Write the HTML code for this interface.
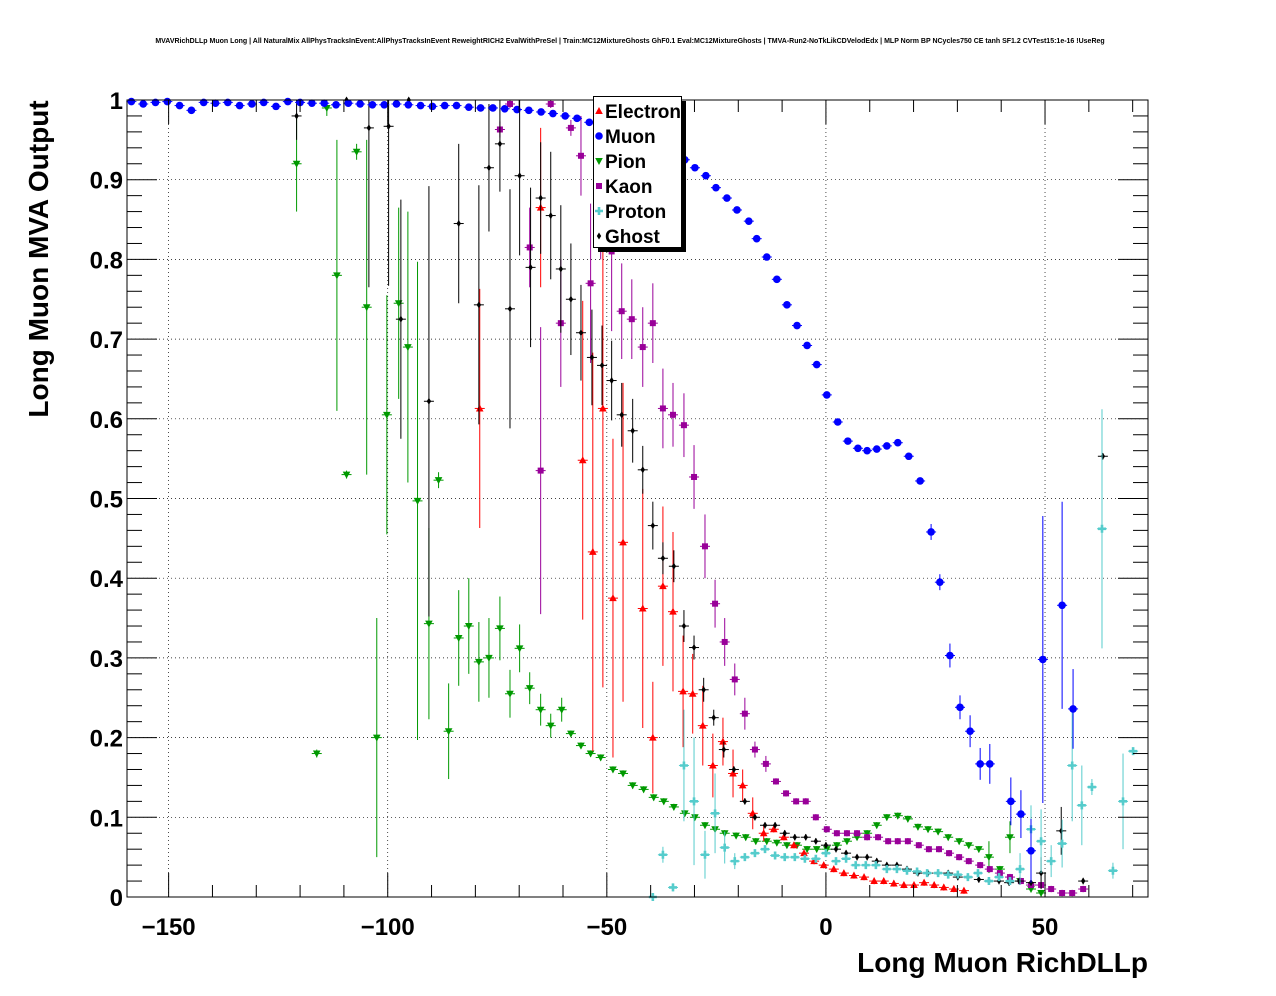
<!DOCTYPE html>
<html><head><meta charset="utf-8">
<style>
body{margin:0;background:#fff;}
svg{display:block;font-family:"Liberation Sans",sans-serif;}
</style></head>
<body>
<svg id="chart" width="1276" height="996" viewBox="0 0 1276 996" xmlns="http://www.w3.org/2000/svg">
<rect width="1276" height="996" fill="#fff"/>
<text x="630" y="43" font-size="7" font-weight="bold" text-anchor="middle">MVAVRichDLLp Muon Long | All NaturalMix AllPhysTracksInEvent:AllPhysTracksInEvent ReweightRICH2 EvalWithPreSel | Train:MC12MixtureGhosts GhF0.1 Eval:MC12MixtureGhosts | TMVA-Run2-NoTkLikCDVelodEdx | MLP Norm BP NCycles750 CE tanh SF1.2 CVTest15:1e-16 !UseReg</text>
<g id="grid"></g>
<g id="marks"></g>
<rect x="127" y="100" width="1021" height="797" fill="none" stroke="#000" stroke-width="1"/>
<g id="axes"></g>
<text transform="translate(48,259) rotate(-90)" font-size="28" font-weight="bold" text-anchor="middle">Long Muon MVA Output</text>
<text x="1148" y="972" font-size="28" font-weight="bold" text-anchor="end">Long Muon RichDLLp</text>
<g id="legend"></g>
</svg>
<script>
const xMin=-159.5, xMax=73.5, yMin=0, yMax=1;
const L=127,R=1148,T=100,B=897;
const xTicks=[-150,-100,-50,0,50];
const xTickLabels=["\u2212150","\u2212100","\u221250","0","50"];
const yTicks=[0,0.1,0.2,0.3,0.4,0.5,0.6,0.7,0.8,0.9,1];
const yTickLabels=["0","0.1","0.2","0.3","0.4","0.5","0.6","0.7","0.8","0.9","1"];

const muonX=[-158.5,-155.8,-153.0,-150.3,-147.5,-144.8,-142.0,-139.3,-136.5,-133.8,-131.0,-128.3,-125.5,-122.8,-120.0,-117.3,-114.5,-111.8,-109.0,-106.3,-103.5,-100.8,-98.0,-95.3,-92.5,-89.8,-87.0,-84.3,-81.5,-78.8,-76.0,-73.3,-70.5,-67.8,-65.0,-62.3,-59.5,-56.8,-54.0,-51.4,-48.9,-46.6,-44.1,-41.8,-39.5,-37.2,-34.7,-32.2,-29.9,-27.4,-25.1,-22.6,-20.3,-17.6,-15.8,-13.5,-11.2,-8.9,-6.6,-4.3,-2.1,0.2,2.7,5.0,7.3,9.4,11.6,13.9,16.4,18.9,21.5,24.0,26.0,28.3,30.6,32.9,35.2,37.4,42.2,44.5,46.8,49.5,53.9,56.4];
const muonY=[0.998,0.995,0.997,0.998,0.993,0.987,0.997,0.996,0.997,0.993,0.995,0.997,0.992,0.998,0.997,0.996,0.996,0.994,0.996,0.995,0.994,0.994,0.995,0.994,0.993,0.992,0.993,0.993,0.991,0.99,0.99,0.989,0.988,0.987,0.985,0.983,0.98,0.977,0.972,0.968,0.965,0.96,0.955,0.948,0.94,0.933,0.928,0.925,0.915,0.905,0.89,0.877,0.862,0.848,0.826,0.803,0.775,0.743,0.717,0.692,0.668,0.63,0.596,0.572,0.563,0.56,0.562,0.566,0.57,0.553,0.522,0.458,0.395,0.303,0.238,0.208,0.167,0.167,0.12,0.104,0.058,0.298,0.366,0.236];
const muonErr=[];muonErr[72]=0.01;muonErr[73]=0.015;muonErr[74]=0.015;muonErr[75]=0.02;muonErr[76]=0.02;muonErr[77]=0.025;muonErr[78]=0.03;muonErr[79]=0.03;muonErr[80]=0.04;muonErr[81]=0.18;muonErr[82]=0.13;muonErr[83]=0.05;muonErr[71]=0.01;

const pionX=[-120.8,-116.2,-113.9,-111.6,-109.4,-107.1,-104.8,-102.5,-100.2,-97.5,-95.4,-93.2,-90.6,-88.4,-86.1,-83.8,-81.5,-79.2,-76.9,-74.4,-72.1,-69.9,-67.6,-65.1,-62.8,-60.3,-58.2,-55.9,-53.7,-51.4,-48.6,-46.3,-44.1,-41.6,-39.3,-37.0,-34.7,-32.2,-29.9,-27.6,-25.3,-23.1,-20.5,-18.3,-16.0,-13.5,-11.2,-8.9,-6.6,-4.3,-2.1,0.2,2.5,4.8,7.1,9.4,11.6,13.9,16.4,18.7,21.0,23.3,25.6,27.9,30.4,32.6,34.9,37.2,39.7,42.0,44.3,46.8,49.1];
const pionY=[0.92,0.18,0.99,0.78,0.53,0.935,0.74,0.2,0.605,0.745,0.69,0.497,0.343,0.523,0.208,0.325,0.34,0.295,0.3,0.337,0.255,0.312,0.262,0.235,0.215,0.235,0.205,0.19,0.18,0.175,0.16,0.155,0.14,0.135,0.125,0.12,0.113,0.105,0.1,0.09,0.085,0.08,0.077,0.075,0.07,0.07,0.068,0.065,0.065,0.06,0.06,0.06,0.065,0.07,0.075,0.08,0.09,0.1,0.102,0.098,0.088,0.085,0.082,0.075,0.07,0.065,0.06,0.05,0.035,0.075,0.02,0.01,0.005];
const pionErr=[0.06,0.005,0.01,0.17,0.005,0.01,0.21,0.15,0.15,0.12,0.17,0.3,0.12,0.01,0.06,0.06,0.06,0.05,0.05,0.04,0.03,0.03,0.02,0.02,0.015,0.015];
pionErr[67]=0.02;pionErr[69]=0.02;

const kaonX=[-74.4,-72.1,-67.6,-65.1,-62.8,-60.5,-58.2,-55.9,-53.7,-51.4,-48.9,-46.6,-44.3,-41.8,-39.5,-37.2,-34.9,-32.4,-30.1,-27.6,-25.3,-23.1,-20.8,-18.5,-16.2,-13.7,-11.4,-9.1,-6.8,-4.6,-2.3,0.2,2.5,4.8,7.1,9.4,11.9,14.2,16.4,18.7,21.2,23.5,25.8,28.1,30.4,32.6,35.2,37.4,39.7,42.0,44.5,46.8,49.1,51.4,53.9,56.2,58.7];
const kaonY=[0.963,0.995,0.815,0.535,0.995,0.72,0.965,0.93,0.77,0.9,0.81,0.735,0.725,0.69,0.72,0.613,0.605,0.592,0.527,0.44,0.368,0.32,0.273,0.23,0.185,0.167,0.145,0.13,0.12,0.12,0.1,0.085,0.08,0.08,0.08,0.075,0.075,0.07,0.07,0.07,0.065,0.06,0.06,0.055,0.05,0.045,0.04,0.035,0.03,0.025,0.02,0.015,0.015,0.01,0.005,0.005,0.01];
const kaonErr=[0.01,0.005,0.05,0.18,0.005,0.08,0.01,0.05,0.1,0.1,0.1,0.06,0.05,0.05,0.05,0.05,0.04,0.04,0.04,0.04,0.03,0.03,0.02,0.02,0.01,0.01];

const elecX=[-79.0,-65.1,-55.5,-53.2,-50.9,-48.6,-46.3,-41.8,-39.5,-37.2,-34.9,-32.6,-30.4,-28.1,-25.8,-23.5,-21.2,-19.0,-16.7,-14.2,-11.9,-9.6,-7.3,-5.0,-2.7,-0.5,1.8,4.1,6.4,8.7,11.0,13.2,15.5,17.8,20.1,22.4,24.7,26.9,29.2,31.5];
const elecY=[0.613,0.865,0.548,0.433,0.613,0.375,0.445,0.362,0.2,0.39,0.358,0.258,0.255,0.215,0.165,0.195,0.155,0.14,0.105,0.08,0.085,0.075,0.065,0.055,0.045,0.04,0.035,0.03,0.027,0.025,0.02,0.02,0.017,0.015,0.015,0.018,0.015,0.012,0.01,0.008];
const elecErr=[0.15,0.1,0.2,0.25,0.35,0.2,0.2,0.15,0.07,0.1,0.1,0.07,0.05,0.05,0.04,0.03,0.03,0.02,0.02,0.01];

const ghostX=[-120.8,-109.4,-104.3,-99.8,-97.0,-95.2,-90.6,-83.8,-79.2,-76.9,-74.4,-72.1,-69.9,-67.4,-65.1,-62.8,-60.5,-58.2,-55.9,-53.4,-51.1,-48.9,-46.6,-44.1,-41.8,-39.5,-37.2,-34.7,-32.4,-30.1,-27.9,-25.6,-23.3,-21.0,-18.5,-16.2,-13.9,-11.6,-9.4,-7.1,-4.6,-2.3,0,2.3,4.6,7.1,9.4,11.6,13.9,16.2,18.5,21.0,23.3,25.6,27.9,30.1,32.4,34.9,37.2,39.5,41.8,44.1,46.8,49.1,53.7,58.7,63.2];
const ghostY=[0.98,1.0,0.965,0.967,0.725,1.0,0.622,0.845,0.743,0.915,0.945,0.738,0.905,0.79,0.877,0.855,0.788,0.75,0.708,0.677,0.667,0.648,0.605,0.585,0.536,0.466,0.425,0.415,0.34,0.313,0.26,0.225,0.185,0.16,0.12,0.1,0.09,0.09,0.08,0.075,0.075,0.07,0.065,0.06,0.055,0.05,0.05,0.045,0.04,0.04,0.035,0.03,0.03,0.03,0.03,0.025,0.025,0.022,0.02,0.02,0.018,0.02,0.018,0.03,0.083,0.02,0.553];
const ghostErr=[0.03,0.005,0.2,0.2,0.15,0.005,0.27,0.1,0.15,0.08,0.06,0.15,0.1,0.1,0.07,0.08,0.08,0.07,0.06,0.06,0.05,0.05,0.04,0.04,0.03,0.03,0.02,0.02,0.02,0.015,0.015,0.01,0.01];
ghostErr[63]=0.02;ghostErr[64]=0.03;

const protX=[-39.5,-37.2,-34.9,-32.4,-30.1,-27.6,-25.3,-23.1,-20.8,-18.5,-16.2,-13.9,-11.6,-9.4,-7.1,-4.8,-2.3,0,2.3,4.6,6.8,9.1,11.4,13.9,16.2,18.5,20.8,23.1,25.6,27.9,30.1,32.4,34.7,37.2,39.5,42.0,44.3,46.8,49.1,51.4,53.9,56.2,58.4,60.7,63.0,65.5,67.8,70.1];
const protY=[0.0,0.053,0.012,0.165,0.12,0.053,0.105,0.062,0.045,0.05,0.055,0.06,0.052,0.05,0.05,0.048,0.048,0.055,0.045,0.048,0.04,0.04,0.04,0.035,0.035,0.033,0.032,0.03,0.03,0.028,0.028,0.025,0.03,0.02,0.025,0.02,0.035,0.085,0.07,0.045,0.067,0.165,0.115,0.138,0.462,0.033,0.12,0.183];
const protErr=[0.005,0.01,0.005,0.07,0.08,0.03,0.05,0.02,0.01];
protErr[36]=0.02;protErr[37]=0.03;protErr[38]=0.04;protErr[39]=0.02;protErr[40]=0.03;protErr[41]=0.07;protErr[42]=0.05;protErr[43]=0.01;protErr[44]=0.15;protErr[45]=0.01;protErr[46]=0.06;

const NS="http://www.w3.org/2000/svg";
function sx(v){return L+(v-xMin)/(xMax-xMin)*(R-L);}
function sy(v){return B-(v-yMin)/(yMax-yMin)*(B-T);}
function mk(tag,attrs,parent){const e=document.createElementNS(NS,tag);for(const k in attrs)e.setAttribute(k,attrs[k]);parent.appendChild(e);return e;}

const grid=document.getElementById('grid');
const axes=document.getElementById('axes');
xTicks.forEach((t,i)=>{
  const x=sx(t);
  const g=mk('line',{x1:x,x2:x,y1:T,y2:B,stroke:'#000','stroke-width':0.7,'stroke-dasharray':'1,3'},grid);
  
  
  const tk=mk('line',{x1:x,x2:x,y1:B,y2:B-24,stroke:'#000'},axes);
  
  
  const tt=mk('line',{x1:x,x2:x,y1:T,y2:T+24,stroke:'#000'},axes);
  
  
  const lb=mk('text',{x:x,y:935,'font-size':24,'font-weight':'bold','text-anchor':'middle'},axes);
  lb.textContent=xTickLabels[i];
  
  
});
for(let v=-150;v<=70;v+=10){
  if(v%50===0)continue;
  const x=sx(v);
  const m=mk('line',{x1:x,x2:x,y1:B,y2:B-12,stroke:'#000'},axes);
  
  
  const m2=mk('line',{x1:x,x2:x,y1:T,y2:T+12,stroke:'#000'},axes);
  
  
}
yTicks.forEach((t,i)=>{
  const y=sy(t);
  if(t>0&&t<1){
    const g=mk('line',{x1:L,x2:R,y1:y,y2:y,stroke:'#000','stroke-width':0.7,'stroke-dasharray':'1,3'},grid);
    
    
  }
  const tk=mk('line',{x1:L,x2:L+30,y1:y,y2:y,stroke:'#000'},axes);
  
  
  const tr=mk('line',{x1:R,x2:R-30,y1:y,y2:y,stroke:'#000'},axes);
  
  
  const lb=mk('text',{x:123,y:y+9,'font-size':24,'font-weight':'bold','text-anchor':'end'},axes);
  lb.textContent=yTickLabels[i];
  
  
});
for(let k=0;k<=50;k++){
  if(k%5===0)continue;
  const y=sy(k*0.02);
  const m=mk('line',{x1:L,x2:L+15,y1:y,y2:y,stroke:'#000'},axes);
  
  
  const m2=mk('line',{x1:R,x2:R-15,y1:y,y2:y,stroke:'#000'},axes);
  
  
}

function marker(type,x,y,color,parent){
  let e;
  if(type==='circle') e=mk('circle',{cx:x,cy:y,r:3.8,fill:color},parent);
  else if(type==='up') e=mk('polygon',{points:`${x},${y-4} ${x-3.8},${y+3} ${x+3.8},${y+3}`,fill:color},parent);
  else if(type==='down') e=mk('polygon',{points:`${x},${y+4} ${x-3.8},${y-3} ${x+3.8},${y-3}`,fill:color},parent);
  else if(type==='square') e=mk('rect',{x:x-3,y:y-3,width:6,height:6,fill:color},parent);
  else if(type==='cross') e=mk('path',{d:`M${x-4},${y-1.3}h2.7v-2.7h2.6v2.7h2.7v2.6h-2.7v2.7h-2.6v-2.7h-2.7z`,fill:color},parent);
  else e=mk('polygon',{points:`${x},${y-3.5} ${x-2.2},${y} ${x},${y+3.5} ${x+2.2},${y}`,fill:color},parent);
  return e;
}

const marks=document.getElementById('marks');
const series=[
 {name:'pion',xs:pionX,ys:pionY,es:pionErr,color:'#009900',m:'down'},
 {name:'kaon',xs:kaonX,ys:kaonY,es:kaonErr,color:'#990099',m:'square'},
 {name:'electron',xs:elecX,ys:elecY,es:elecErr,color:'#ff0000',m:'up'},
 {name:'ghost',xs:ghostX,ys:ghostY,es:ghostErr,color:'#000000',m:'diamond'},
 {name:'proton',xs:protX,ys:protY,es:protErr,color:'#55cccc',m:'cross'},
 {name:'muon',xs:muonX,ys:muonY,es:muonErr,color:'#0000ff',m:'circle'}
];
series.forEach(s=>{
  const g=mk('g',{},marks);
  
  
  s.xs.forEach((xv,i)=>{
    if(i>=s.ys.length)return;
    const x=sx(xv),y=sy(s.ys[i]);
    const err=s.es[i]!==undefined?s.es[i]:0.004;
    const y1=Math.max(T,sy(s.ys[i]+err)),y2=Math.min(B,sy(s.ys[i]-err));
    const eb=mk('line',{x1:x,x2:x,y1:y1,y2:y2,stroke:s.color,'stroke-width':1},g);
    
    
    const hb=mk('line',{x1:x-5,x2:x+5,y1:y,y2:y,stroke:s.color,'stroke-width':1},g);
    
    
    const p=marker(s.m,x,y,s.color,g);
    
    
  });
});

const leg=document.getElementById('legend');
const sh=mk('rect',{x:598,y:101,width:88,height:151,fill:'#000'},leg);


const box=mk('rect',{x:593.5,y:96.5,width:88,height:151,fill:'#fff',stroke:'#000','stroke-width':1},leg);


const legNames=['Electron','Muon','Pion','Kaon','Proton','Ghost'];
const legTypes=['up','circle','down','square','cross','diamond'];
const legColors=['#ff0000','#0000ff','#009900','#990099','#55cccc','#000000'];
legNames.forEach((n,i)=>{
  const y=111+i*25;
  const m=marker(legTypes[i],599,y,legColors[i],leg);
  
  
  const t=mk('text',{x:605,y:y+7,'font-size':19,'font-weight':'bold'},leg);
  t.textContent=n;
  
  
});
</script>
</body></html>
